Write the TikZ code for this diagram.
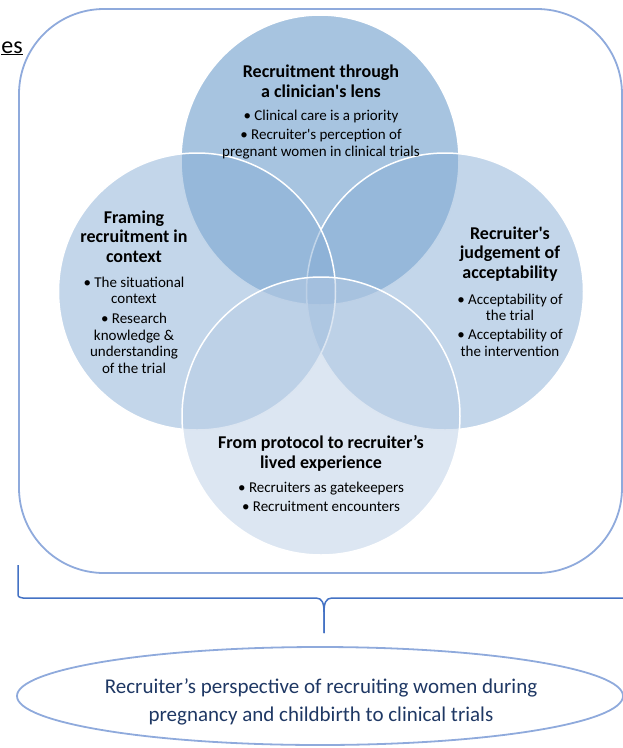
\documentclass[tikz,border=0pt]{standalone}
\usepackage{fontspec}
\setmainfont{Carlito}
\usetikzlibrary{shapes.geometric}
\definecolor{boxblue}{RGB}{143,170,220}
\definecolor{braceblue}{RGB}{68,114,196}
\definecolor{navy}{RGB}{31,56,100}
\definecolor{topfill}{RGB}{79,137,193}
\definecolor{sidefill}{RGB}{135,173,213}
\definecolor{lowfill}{RGB}{185,205,229}
\begin{document}
\begin{tikzpicture}[x=1pt,y=-1pt,
  venn/.style={fill opacity=0.5,draw=white,line width=1.5pt},
  head/.style={anchor=base,align=center,inner sep=0pt,font=\bfseries\fontsize{18}{19.5}\selectfont},
  items/.style={anchor=base,align=center,inner sep=0pt,font=\fontsize{15}{16.5}\selectfont}]
\useasboundingbox (0,0) rectangle (623,748);
\clip (0,0) rectangle (623,748);
\node[anchor=base east,inner sep=0pt,font=\fontsize{24}{24}\selectfont] (themes) at (23,53) {\underline{es}};
\draw[boxblue,line width=1.8pt,rounded corners=85pt] (19,9) rectangle (622,573);
% venn circles
\draw[venn,fill=topfill] (320,160) ellipse (139pt and 145pt); %T
\draw[venn,fill=sidefill] (445,291.5) circle (138.5pt); %R
\draw[venn,fill=sidefill] (197,291.5) circle (138.5pt); %L
\draw[venn,fill=lowfill] (321,416) circle (139pt); %B
% texts (base = last line)
\node[head] (topHead) at (321,97) {Recruitment through\\a clinician\textquotesingle s lens};
\node[items] (topItems) at (321,156) {• Clinical care is a priority\\[2.5pt]• Recruiter\textquotesingle s perception of\\pregnant women in clinical trials};
\node[head] (leftHead) at (134,262) {Framing\\recruitment in\\context};
\node[items] (leftItems) at (134,373) {• The situational\\context\\[3.5pt]• Research\\knowledge \&\\understanding\\of the trial};
\node[head] (rightHead) at (510,278) {Recruiter\textquotesingle s\\judgement of\\acceptability};
\node[items] (rightItems) at (510,356) {• Acceptability of\\the trial\\[2.5pt]• Acceptability of\\the intervention};
\node[head] (lowHead) at (321,468) {From protocol to recruiter’s\\lived experience};
\node[items] (lowItems) at (321,511) {• Recruiters as gatekeepers\\[2.5pt]• Recruitment encounters};
% brace
\coordinate (brL) at (18,565);
\coordinate (brtip) at (324,633);
\draw[braceblue,line width=1.5pt] (brL) -- (18,592) .. controls (18,597) .. (23,598) -- (316,598)
  .. controls (322,598) and (324,603) .. (324,612) -- (brtip);
\draw[braceblue,line width=1.5pt] (brtip) -- (324,612) .. controls (324,603) and (326,598) .. (332,598) -- (640,598);
% summary
\node[ellipse,draw=boxblue,line width=1.8pt,minimum width=606pt,minimum height=98pt,inner sep=0pt] (persp) at (320,696) {};
\node[font=\fontsize{21}{28}\selectfont,text=navy,align=center,inner sep=0pt] (perspText) at (321,702) {Recruiter’s perspective of recruiting women during\\pregnancy and childbirth to clinical trials};
\end{tikzpicture}
\end{document}
